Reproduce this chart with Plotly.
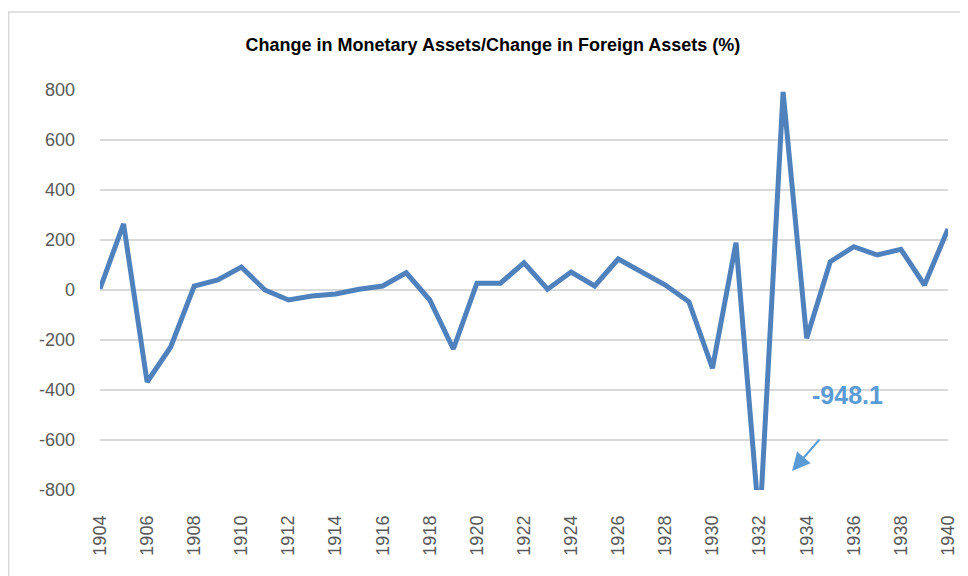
import plotly.graph_objects as go

years = list(range(1904, 1941))
ratio = [5, 265, -368, -228, 16, 40, 92, 0, -40, -24, -16, 3, 16, 69, -40, -236,
         27, 27, 109, 3, 72, 16, 124, 73, 20, -47, -313, 189, -948.1, 792, -193,
         113, 173, 140, 163, 20, 244]

y_ticks = [-800, -600, -400, -200, 0, 200, 400, 600, 800]
y_labels = [str(v) for v in y_ticks]  # plain hyphen like Excel
x_ticks = list(range(1904, 1941, 2))

line_color = "#4F81BD"
label_color = "#5B9BD5"
grid_color = "#D9D9D9"

fig = go.Figure()
fig.add_trace(go.Scatter(x=years, y=ratio, mode="lines",
                         line=dict(color=line_color, width=5),
                         showlegend=False))

# page body has an 8px margin, so the plot is placed 8px up/left
fig.update_layout(
    width=968, height=576,
    margin=dict(l=92, r=28, t=82, b=94),
    paper_bgcolor="white", plot_bgcolor="white",
    title=dict(text="<b>Change in Monetary Assets/Change in Foreign Assets (%)</b>",
               x=0.501, xanchor="center", y=0.936, yanchor="middle",
               font=dict(family="Liberation Sans, Arial", size=18, color="black")),
    font=dict(family="Liberation Sans, Arial", size=18, color="#595959"),
    xaxis=dict(range=[1904, 1940], tickvals=x_ticks, tickangle=-90,
               showgrid=False, zeroline=False, showline=False, ticks="",
               ticklabelstandoff=21, automargin=False),
    yaxis=dict(range=[-800, 800], tickvals=y_ticks, ticktext=y_labels,
               gridcolor=grid_color, gridwidth=1.5, zeroline=False,
               showline=False, ticks="", ticklabelstandoff=24, automargin=False),
)

# value label for the clipped 1932 point
fig.add_annotation(x=1935.75, y=-420, text="<b>-948.1</b>", showarrow=False,
                   font=dict(family="Liberation Sans, Arial", size=25, color=label_color))
fig.add_annotation(x=1933.38, y=-724, ax=1934.6, ay=-592, axref="x", ayref="y",
                   text="", showarrow=True, arrowhead=2, arrowsize=1.8,
                   arrowwidth=2, arrowcolor=label_color)

# chart border
fig.add_shape(type="rect", xref="paper", yref="paper",
              x0=-0.1076, x1=1.2, y0=-0.5, y1=1.195,
              line=dict(color=grid_color, width=1.5), layer="below")

fig.write_html("out.html")
